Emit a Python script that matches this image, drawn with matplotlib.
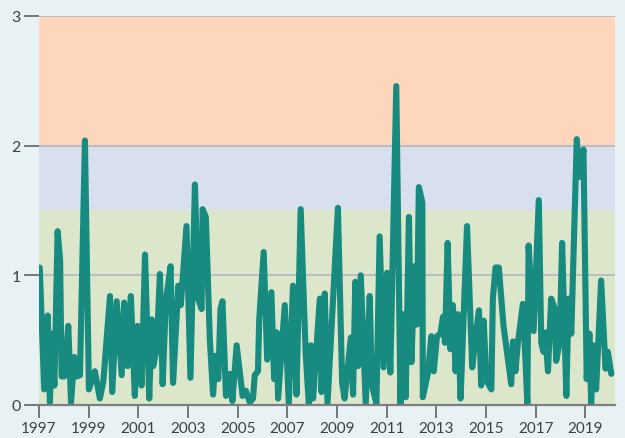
import numpy as np
import matplotlib.pyplot as plt

# decimal year / value pairs
years = [1997.03, 1997.21, 1997.35, 1997.44, 1997.51, 1997.62, 1997.75, 1997.85, 1997.91,
         1998.02, 1998.18, 1998.29, 1998.42, 1998.52, 1998.65, 1998.85, 1999.01, 1999.25,
         1999.45, 1999.59, 1999.86, 1999.95, 2000.13, 2000.33, 2000.43, 2000.57, 2000.70,
         2000.86, 2000.97, 2001.13, 2001.27, 2001.44, 2001.54, 2001.60, 2001.74, 2001.87,
         2001.98, 2002.11, 2002.30, 2002.40, 2002.61, 2002.71, 2002.94, 2003.10, 2003.28,
         2003.41, 2003.55, 2003.59, 2003.72, 2003.88, 2004.01, 2004.12, 2004.22, 2004.31,
         2004.39, 2004.53, 2004.69, 2004.79, 2004.96, 2005.09, 2005.20, 2005.33, 2005.49,
         2005.62, 2005.69, 2005.82, 2005.87, 2006.05, 2006.19, 2006.36, 2006.47, 2006.57,
         2006.63, 2006.90, 2007.06, 2007.23, 2007.37, 2007.54, 2007.74, 2007.87, 2007.95,
         2008.04, 2008.31, 2008.38, 2008.51, 2008.62, 2009.04, 2009.21, 2009.31, 2009.56,
         2009.65, 2009.74, 2009.85, 2009.96, 2010.16, 2010.32, 2010.41, 2010.59, 2010.72,
         2010.88, 2011.02, 2011.15, 2011.39, 2011.56, 2011.64, 2011.77, 2011.90, 2012.00,
         2012.13, 2012.22, 2012.30, 2012.44, 2012.46, 2012.67, 2012.80, 2012.90, 2013.03,
         2013.17, 2013.27, 2013.35, 2013.46, 2013.57, 2013.67, 2013.78, 2013.87, 2013.98,
         2014.24, 2014.45, 2014.59, 2014.72, 2014.81, 2014.91, 2015.02, 2015.22, 2015.28,
         2015.39, 2015.52, 2015.71, 2016.02, 2016.09, 2016.19, 2016.29, 2016.49, 2016.67,
         2016.72, 2016.92, 2017.13, 2017.23, 2017.32, 2017.39, 2017.50, 2017.63, 2017.76,
         2017.83, 2017.97, 2018.07, 2018.24, 2018.33, 2018.44, 2018.66, 2018.77, 2018.93,
         2019.06, 2019.17, 2019.24, 2019.33, 2019.44, 2019.64, 2019.82, 2019.91, 2020.05]
values = [1.06, 0.12, 0.69, 0.02, 0.55, 0.15, 1.34, 1.12, 0.22,
          0.22, 0.61, 0.02, 0.37, 0.22, 0.23, 2.04, 0.12, 0.26,
          0.05, 0.18, 0.84, 0.10, 0.80, 0.23, 0.79, 0.30, 0.84,
          0.07, 0.61, 0.15, 1.16, 0.05, 0.66, 0.30, 0.43, 1.01,
          0.16, 0.80, 1.07, 0.17, 0.92, 0.77, 1.38, 0.21, 1.70,
          0.82, 0.74, 1.51, 1.45, 0.51, 0.08, 0.38, 0.20, 0.74,
          0.80, 0.07, 0.24, 0.03, 0.46, 0.25, 0.07, 0.11, 0.02,
          0.05, 0.23, 0.26, 0.66, 1.18, 0.35, 0.87, 0.20, 0.56,
          0.05, 0.77, 0.01, 0.92, 0.08, 1.51, 0.40, 0.00, 0.46,
          0.05, 0.82, 0.10, 0.86, 0.01, 1.52, 0.17, 0.05, 0.52,
          0.08, 0.95, 0.30, 1.00, 0.01, 0.84, 0.15, 0.01, 1.30,
          0.29, 1.02, 0.25, 2.46, 0.01, 0.70, 0.06, 1.45, 0.33,
          1.07, 0.62, 1.68, 1.56, 0.06, 0.25, 0.53, 0.26, 0.53,
          0.55, 0.68, 0.48, 1.25, 0.43, 0.77, 0.26, 0.70, 0.05,
          1.38, 0.29, 0.53, 0.73, 0.15, 0.65, 0.19, 0.12, 0.82,
          1.06, 1.06, 0.61, 0.16, 0.49, 0.26, 0.48, 0.78, 0.01,
          1.23, 0.57, 1.58, 0.48, 0.41, 0.56, 0.26, 0.82, 0.75,
          0.34, 0.48, 1.25, 0.07, 0.82, 0.55, 2.05, 1.76, 1.97,
          0.20, 0.55, 0.01, 0.46, 0.12, 0.96, 0.28, 0.41, 0.24]

# shaded bands (lower, upper, colour)
bands = [(0, 1.5, '#dce6ca'), (1.5, 2, '#d8dfee'), (2, 3, '#fdd6bc')]
xticks = list(range(1997, 2020, 2))
yticks = [0, 1, 2, 3]

plt.rcParams['font.family'] = ['Lato', 'DejaVu Sans']

fig = plt.figure(figsize=(6.25, 4.39), dpi=100, facecolor='#e8f1f3')
ax = fig.add_axes([0.0624, 0.0752, 0.9216, 0.8861])
ax.set_facecolor('#e8f1f3')

for lo, hi, c in bands:
    ax.axhspan(lo, hi, color=c, lw=0, zorder=0)

for y in yticks[1:]:
    ax.axhline(y, color='#b4b6bd', lw=1.2, zorder=1)

ax.plot(years, values, color='#188b80', lw=4.4, solid_joinstyle='round',
        solid_capstyle='round', zorder=3)

ax.set_xlim(1997, 2020.2)
ax.set_ylim(0, 3)
ax.set_xticks(xticks)
ax.set_yticks(yticks)

for s in ['left', 'right', 'top']:
    ax.spines[s].set_visible(False)
ax.spines['bottom'].set_color('#7d7f85')
ax.spines['bottom'].set_linewidth(1.6)
ax.spines['bottom'].set_zorder(4)

ax.tick_params(axis='x', length=9.5, width=1.1, color='#555555', labelsize=11,
               labelcolor='#404040', pad=2)
ax.tick_params(axis='y', length=11, width=1.1, color='#555555', labelsize=11.5,
               labelcolor='#404040', pad=2)

fig.savefig('out.png', dpi=100, facecolor=fig.get_facecolor())
